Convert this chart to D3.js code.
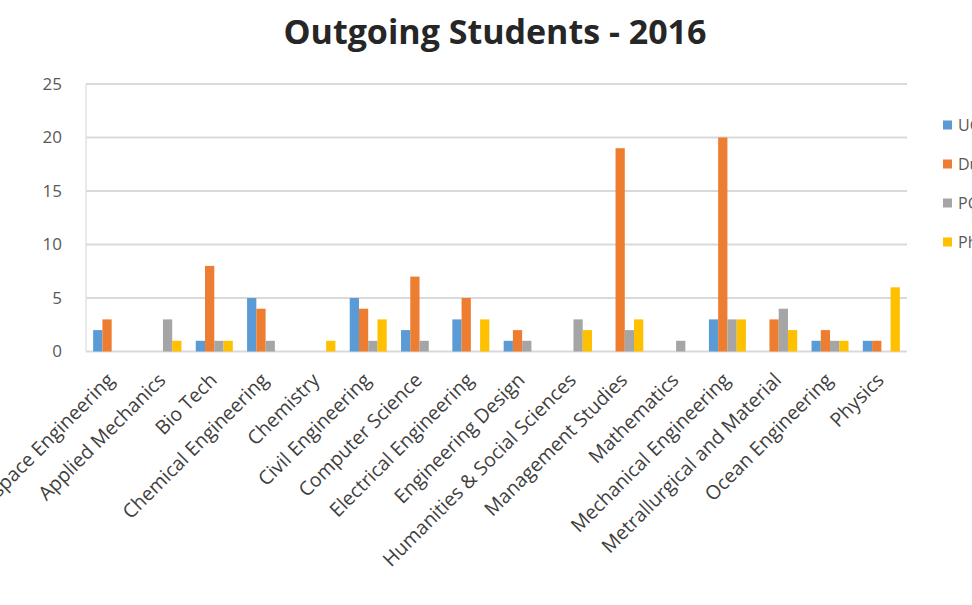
<!DOCTYPE html>
<html>
<head>
<meta charset="utf-8">
<script src="https://cdn.jsdelivr.net/npm/d3@7"></script>
<style>
  body { margin: 0; background: white; }
  #chart { width: 972px; height: 605px; overflow: hidden; }
</style>
</head>
<body>
<div id="chart"></div>
<script>
// data
const departments = ["Aerospace Engineering", "Applied Mechanics", "Bio Tech", "Chemical Engineering",
  "Chemistry", "Civil Engineering", "Computer Science", "Electrical Engineering", "Engineering Design",
  "Humanities & Social Sciences", "Management Studies", "Mathematics", "Mechanical Engineering",
  "Metrallurgical and Material", "Ocean Engineering", "Physics"]
const seriesNames = ["UG", "Dual Degree", "PG", "PhD"]
const ugValues   = [2, 0, 1, 5, 0, 5, 2, 3, 1, 0, 0, 0, 3, 0, 1, 1]
const dualValues = [3, 0, 8, 4, 0, 4, 7, 5, 2, 0, 19, 0, 20, 3, 2, 1]
const pgValues   = [0, 3, 1, 1, 0, 1, 1, 0, 1, 3, 2, 1, 3, 4, 1, 0]
const phdValues  = [0, 1, 1, 0, 1, 3, 0, 3, 0, 2, 3, 0, 3, 2, 1, 6]
const yTicks = [0, 5, 10, 15, 20, 25]
const colors = ["#5b9bd5", "#ed7d31", "#a5a5a5", "#ffc000"]

const seriesValues = [ugValues, dualValues, pgValues, phdValues]
const rows = departments.map((d, i) => ({
  dept: d,
  values: seriesNames.map((s, j) => ({ key: s, value: seriesValues[j][i] }))
}))

const width = 972, height = 605
const plot = { left: 86, right: 907, top: 84, bottom: 351.5 }
const font = "'Open Sans', Lato, sans-serif"

const svg = d3.select("#chart")
  .append("svg")
    .attr("width", width)
    .attr("height", height)
    .style("font-family", font)

// title
svg.append("text")
  .attr("x", 495)
  .attr("y", 44)
  .attr("text-anchor", "middle")
  .style("font-size", "34px")
  .style("font-weight", "bold")
  .style("fill", "#262626")
  .text("Outgoing Students - 2016")

// scales
const x0 = d3.scaleBand()
  .domain(departments)
  .range([plot.left, plot.right])
  .padding(0)

const groupWidth = 37
const x1 = d3.scaleBand()
  .domain(seriesNames)
  .range([0, groupWidth])
  .padding(0)

const y = d3.scaleLinear()
  .domain([0, 25])
  .range([plot.bottom, plot.top])

const color = d3.scaleOrdinal().domain(seriesNames).range(colors)

// gridlines
svg.append("g")
  .selectAll("line")
  .data(yTicks)
  .join("line")
    .attr("x1", plot.left)
    .attr("x2", plot.right)
    .attr("y1", d => y(d))
    .attr("y2", d => y(d))
    .style("stroke", "#d9d9d9")
    .style("stroke-width", 2)

svg.append("line")
  .attr("x1", plot.left).attr("x2", plot.left)
  .attr("y1", y(25)).attr("y2", y(0))
  .style("stroke", "#e3e3e3")
  .style("stroke-width", 1.5)

// y axis labels
svg.append("g")
  .attr("transform", `translate(${plot.left - 21}, 0)`)
  .call(d3.axisLeft(y).tickValues(yTicks).tickSize(0))
  .call(g => g.select(".domain").remove())
  .selectAll("text")
    .style("font-family", font)
    .style("font-size", "17px")
    .style("fill", "#595959")

// bars
const groups = svg.append("g")
  .selectAll("g")
  .data(rows)
  .join("g")
    .attr("transform", d => `translate(${x0(d.dept) + (x0.bandwidth() - groupWidth) / 2}, 0)`)

groups.selectAll("rect")
  .data(d => d.values)
  .join("rect")
    .attr("x", d => x1(d.key))
    .attr("y", d => y(d.value))
    .attr("width", x1.bandwidth())
    .attr("height", d => y(0) - y(d.value))
    .style("fill", d => color(d.key))

// x labels, rotated
svg.append("g")
  .selectAll("text")
  .data(departments)
  .join("text")
    .attr("transform", d => `translate(${x0(d) + x0.bandwidth() / 2 - 1}, 376.5) rotate(-45)`)
    .attr("text-anchor", "end")
    .attr("dy", "0.35em")
    .style("font-size", "19.5px")
    .style("fill", "#404040")
    .text(d => d)

// legend (runs off the right edge like the original)
const legend = svg.append("g")
  .selectAll("g")
  .data(seriesNames)
  .join("g")
    .attr("transform", (d, i) => `translate(943, ${125 + i * 39})`)

legend.append("rect")
  .attr("x", 0)
  .attr("y", -4.5)
  .attr("width", 9)
  .attr("height", 9)
  .style("fill", d => color(d))

legend.append("text")
  .attr("x", 15)
  .attr("dy", "0.35em")
  .style("font-size", "16px")
  .style("fill", "#595959")
  .text(d => d)
</script>
</body>
</html>
